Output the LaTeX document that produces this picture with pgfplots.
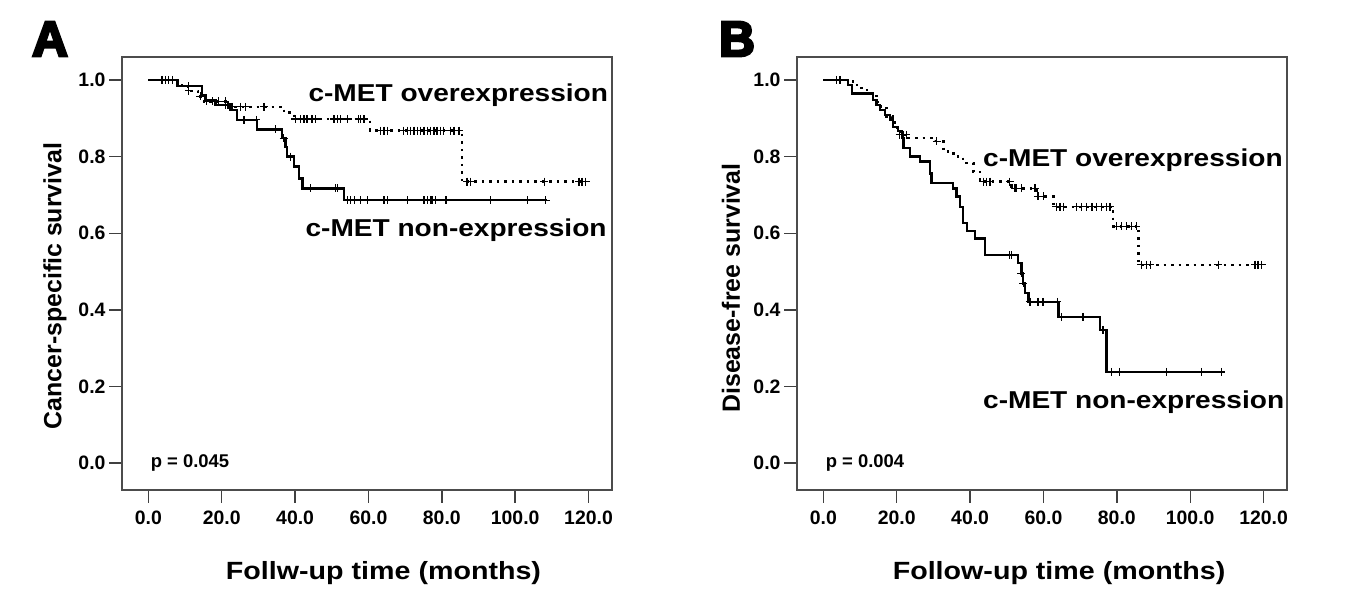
\documentclass[border=0pt]{standalone}
\usepackage{fontspec}
\setmainfont{Liberation Sans}
\usepackage{pgfplots}
\pgfplotsset{compat=1.18}
\newfontfamily\boldf{Liberation Sans}[UprightFont=* Bold]
\newfontfamily\labf{Liberation Sans}[UprightFont=* Bold, FakeStretch=1.15]
\newfontfamily\heavyf{Liberation Sans}[UprightFont=* Bold, FakeBold=5]
\pgfplotsset{
  km/.style={
    scale only axis, width=490bp, height=433bp,
    xmin=-7.2, xmax=126.4, ymin=-0.070, ymax=1.060,
    xtick={0,20,40,60,80,100,120}, ytick={0,0.2,0.4,0.6,0.8,1.0},
    tick align=outside, tick pos=left, major tick length=13bp,
    axis line style={black!70, line width=1.4bp},
    every tick/.style={black!75, line width=1.4bp},
    tick label style={font=\fontsize{19.5}{23}\boldf},
    xticklabel style={yshift=-4bp},
    /pgf/number format/fixed, /pgf/number format/fixed zerofill,
    /pgf/number format/precision=1, /pgf/number format/assume math mode=true,
  },
  solidkm/.style={black, line width=2.3bp, const plot, mark=none},
  dashkm/.style={black, line width=2.3bp, const plot, mark=none, dash pattern=on 2.5bp off 5bp},
  cens/.style={black, only marks, mark=+, mark size=4bp, line width=1.3bp},
}
\begin{document}
\begin{tikzpicture}[x=1bp,y=1bp]
\path[use as bounding box] (0,0) rectangle (1371,600);
% Panel A
\begin{axis}[km, at={(122bp,110bp)}, anchor=south west]
\addplot[solidkm] coordinates {(0,1.0)(7.9,0.984)(14.6,0.961)(15.6,0.948)(18.3,0.935)(22.4,0.921)(24.2,0.896)(29.7,0.871)(36.5,0.848)(37.4,0.826)(37.8,0.800)(39.6,0.774)(41.0,0.743)(42.0,0.717)(53.3,0.686)(108.7,0.686)};
\addplot[cens] coordinates {(3.7,1)(4.7,1)(5.5,1)(6.5,1)(11.0,0.984)(21.0,0.935)(21.7,0.935)(26.1,0.896)(29.4,0.896)(34.7,0.871)(36.9,0.848)(38.8,0.800)(44.2,0.717)(51.0,0.717)(51.5,0.717)(54.2,0.686)(55.1,0.686)(56.1,0.686)(57.9,0.686)(59.7,0.686)(64.2,0.686)(65.1,0.686)(70.6,0.686)(75.1,0.686)(76.0,0.686)(76.9,0.686)(77.3,0.686)(78.3,0.686)(81.1,0.686)(93.2,0.686)(103.3,0.686)(108.3,0.686)};
\addplot[dashkm] coordinates {(0,1.0)(8.1,0.987)(10.8,0.972)(13.5,0.957)(15.1,0.944)(22.4,0.930)(36.9,0.915)(39.6,0.898)(60.5,0.868)(85.5,0.735)(119.2,0.735)};
\addplot[cens] coordinates {(11.0,0.972)(14.2,0.957)(15.9,0.944)(17.4,0.944)(19.2,0.944)(21.0,0.944)(22.9,0.930)(25.1,0.930)(26.5,0.930)(31.5,0.930)(40.1,0.898)(41.4,0.898)(42.4,0.898)(43.2,0.898)(44.6,0.898)(45.6,0.898)(50.6,0.898)(51.5,0.898)(52.3,0.898)(54.2,0.898)(57.3,0.898)(57.9,0.898)(58.8,0.898)(63.3,0.868)(64.2,0.868)(65.2,0.868)(69.6,0.868)(70.6,0.868)(71.4,0.868)(72.4,0.868)(73.3,0.868)(74.2,0.868)(75.1,0.868)(76.0,0.868)(76.9,0.868)(77.9,0.868)(78.7,0.868)(79.7,0.868)(80.5,0.868)(82.3,0.868)(83.3,0.868)(84.7,0.868)(86.9,0.735)(87.9,0.735)(107.9,0.735)(117.4,0.735)(118.2,0.735)(119.2,0.735)};
\node[anchor=west, inner sep=0pt, font=\fontsize{24.5}{28}\labf] at (axis cs:43.6,0.961) {c-MET overexpression};
\node[anchor=west, inner sep=0pt, font=\fontsize{24.5}{28}\labf] at (axis cs:42.8,0.608) {c-MET non-expression};
\node[anchor=west, inner sep=0pt, font=\fontsize{18.5}{22}\boldf] at (axis cs:0.6,0) {p = 0.045};
\end{axis}
% Panel B
\begin{axis}[km, at={(797bp,110bp)}, anchor=south west]
\addplot[solidkm] coordinates {(0,1.0)(6.7,0.987)(7.7,0.965)(13.6,0.948)(14.5,0.935)(15.4,0.921)(16.8,0.909)(18.1,0.896)(19.0,0.878)(20.4,0.866)(21.4,0.848)(21.8,0.822)(23.6,0.800)(26.3,0.787)(29.0,0.756)(29.5,0.732)(35.3,0.717)(36.3,0.696)(37.2,0.669)(38.1,0.626)(39.1,0.605)(41.3,0.586)(44.0,0.543)(53.1,0.522)(54.0,0.495)(54.5,0.469)(54.9,0.444)(55.9,0.421)(64.1,0.382)(75.4,0.348)(77.2,0.238)(108.7,0.238)};
\addplot[cens] coordinates {(3.6,1)(4.5,1)(50.8,0.543)(51.3,0.543)(54.0,0.495)(54.5,0.469)(56.3,0.421)(58.5,0.421)(59.9,0.421)(63.8,0.421)(64.9,0.382)(70.8,0.382)(76.2,0.348)(78.6,0.238)(80.8,0.238)(93.5,0.238)(103.1,0.238)(108.5,0.238)};
\addplot[dashkm] coordinates {(0,1.0)(8.1,0.987)(10.4,0.974)(12.9,0.959)(14.5,0.943)(15.6,0.927)(17.2,0.905)(18.8,0.889)(20.0,0.871)(20.9,0.857)(23.2,0.848)(30.4,0.840)(32.7,0.813)(35.5,0.800)(38.1,0.783)(40.9,0.760)(42.7,0.735)(51.3,0.722)(51.8,0.717)(58.1,0.696)(62.7,0.669)(79.0,0.618)(85.9,0.518)(119.5,0.518)};
\addplot[cens] coordinates {(20.8,0.857)(21.7,0.857)(22.6,0.857)(30.9,0.840)(43.6,0.735)(44.5,0.735)(45.4,0.735)(50.8,0.735)(52.2,0.717)(52.6,0.717)(54.0,0.717)(57.7,0.717)(58.5,0.696)(60.0,0.696)(63.5,0.669)(64.5,0.669)(65.4,0.669)(69.0,0.669)(70.4,0.669)(71.8,0.669)(73.2,0.669)(74.4,0.669)(75.8,0.669)(77.2,0.669)(78.1,0.669)(79.9,0.618)(81.2,0.618)(82.7,0.618)(84.0,0.618)(85.3,0.618)(86.7,0.518)(88.1,0.518)(89.1,0.518)(107.7,0.518)(117.7,0.518)(118.5,0.518)(119.5,0.518)};
\node[anchor=west, inner sep=0pt, font=\fontsize{24.5}{28}\labf] at (axis cs:43.5,0.791) {c-MET overexpression};
\node[anchor=west, inner sep=0pt, font=\fontsize{24.5}{28}\labf] at (axis cs:43.5,0.160) {c-MET non-expression};
\node[anchor=west, inner sep=0pt, font=\fontsize{18.5}{22}\boldf] at (axis cs:0.6,0) {p = 0.004};
\end{axis}
% labels
\node[rotate=90, font=\fontsize{25}{30}\boldf] at (55,314) {Cancer-specific survival};
\node[rotate=90, font=\fontsize{25}{30}\boldf] at (731,312) {Disease-free survival};
\node[font=\fontsize{25}{30}\labf] at (383.5,27) {Follw-up time (months)};
\node[font=\fontsize{25}{30}\labf] at (1059,27) {Follow-up time (months)};
\node[font=\fontsize{50}{54}\heavyf] at (50,561) {A};
\node[font=\fontsize{50}{54}\heavyf] at (737,561) {B};
\end{tikzpicture}
\end{document}
